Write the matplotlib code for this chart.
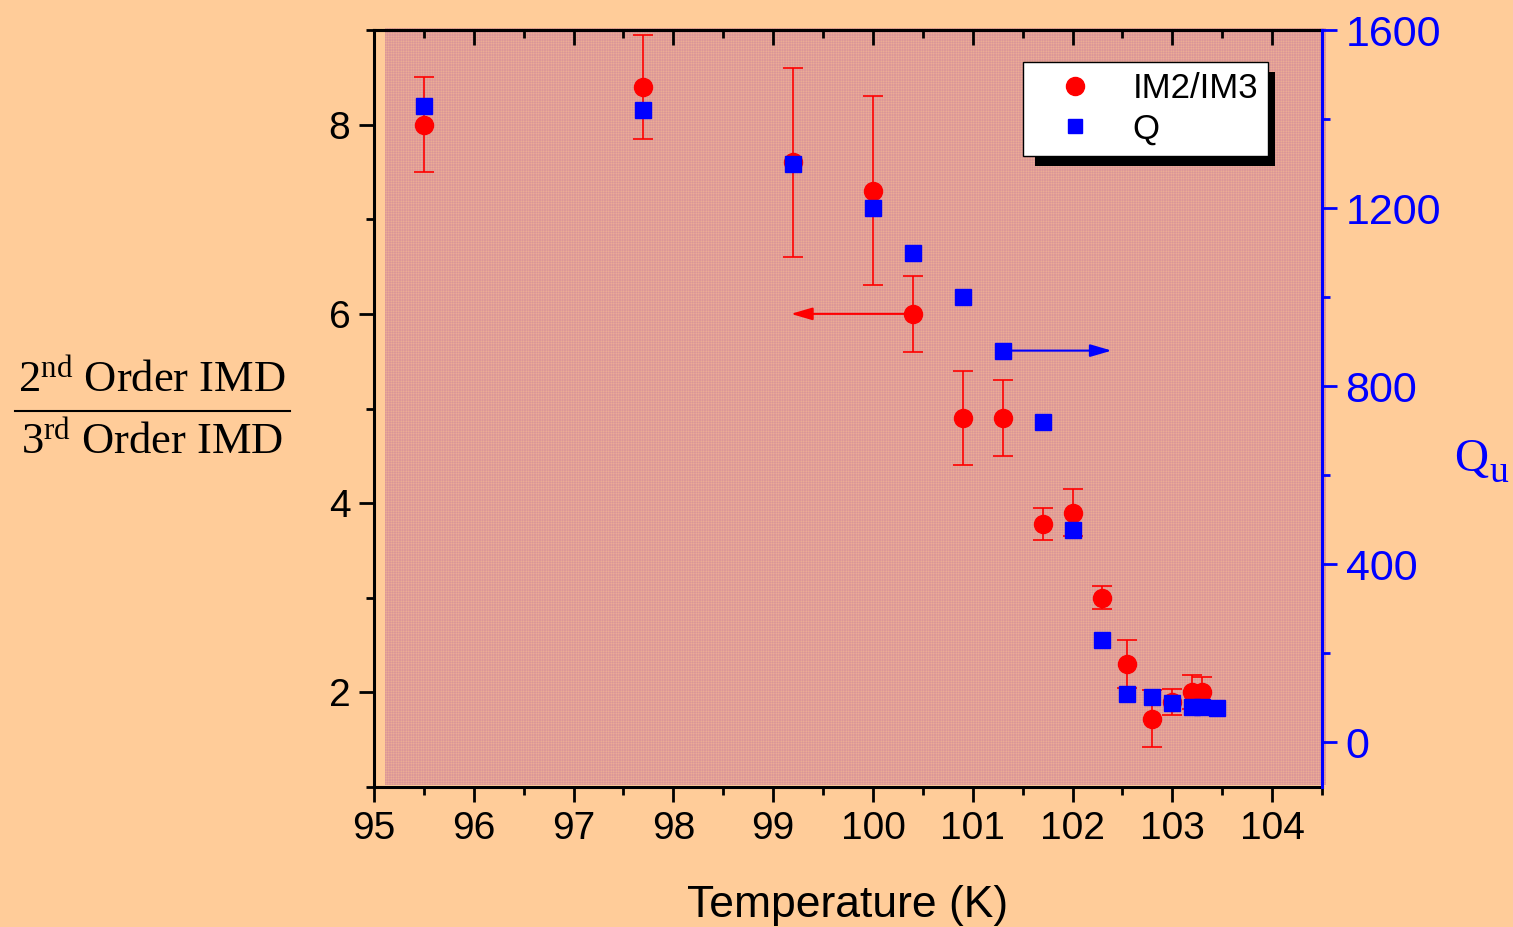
import matplotlib
matplotlib.use("Agg")
import matplotlib.pyplot as plt
from matplotlib.patches import Rectangle
from matplotlib.lines import Line2D
from matplotlib.ticker import MultipleLocator

# ---- data ----
t_ratio = [95.5, 97.7, 99.2, 100.0, 100.4, 100.9, 101.3, 101.7, 102.0, 102.3, 102.55, 102.8, 103.0, 103.2, 103.3]
ratio = [8.0, 8.4, 7.6, 7.3, 6.0, 4.9, 4.9, 3.78, 3.9, 3.0, 2.3, 1.72, 1.9, 2.0, 2.0]
ratio_err = [0.5, 0.55, 1.0, 1.0, 0.4, 0.5, 0.4, 0.17, 0.25, 0.12, 0.25, 0.3, 0.14, 0.18, 0.16]

t_q = [95.5, 97.7, 99.2, 100.0, 100.4, 100.9, 101.3, 101.7, 102.0, 102.3, 102.55, 102.8, 103.0, 103.2, 103.3, 103.45]
q_vals = [1430, 1420, 1300, 1200, 1100, 1000, 880, 720, 478, 230, 108, 101, 88, 79, 79, 77]

x_ticks = [95, 96, 97, 98, 99, 100, 101, 102, 103, 104]
left_ticks = [2, 4, 6, 8]
right_ticks = [0, 400, 800, 1200, 1600]

BG = "#FFCC99"
W, H = 1513, 927
fig = plt.figure(figsize=(W / 100, H / 100), dpi=100, facecolor=BG)
ax = fig.add_axes([374 / W, 1 - 787 / H, (1322 - 374) / W, (787 - 30) / H])
ax.set_facecolor("none")
ax.set_xlim(95, 104.5)
ax.set_ylim(1, 9)

plt.rcParams["hatch.linewidth"] = 0.35
ax.add_patch(Rectangle((95.11, 1.02), 104.5 - 95.11 + 0.04, 8.0, facecolor="#efb293",
                       edgecolor="#d9939a", hatch="+" * 10, linewidth=0, zorder=0, clip_on=False))

ax.errorbar(t_ratio, ratio, yerr=ratio_err, fmt="o", color="red", ms=13, elinewidth=1.2,
            capsize=7, capthick=1.2, zorder=3)

ax2 = ax.twinx()
ax2.set_ylim(-100, 1600)
ax2.set_facecolor("none")
ax2.plot(t_q, q_vals, "s", color="blue", ms=11, zorder=3)

# arrows
ax.annotate("", xy=(99.15, 6.0), xytext=(100.35, 6.0),
            arrowprops=dict(arrowstyle="-|>,head_length=1.3,head_width=0.38", color="red", lw=1.5))
ax2.annotate("", xy=(102.42, 880), xytext=(101.35, 880),
             arrowprops=dict(arrowstyle="-|>,head_length=1.3,head_width=0.38", color="blue", lw=1.5))

# spines / ticks
for s in ["left", "bottom", "top"]:
    ax.spines[s].set_linewidth(2.2)
    ax.spines[s].set_color("black")
ax.spines["right"].set_visible(False)
for s in ["left", "bottom", "top"]:
    ax2.spines[s].set_visible(False)
ax2.spines["right"].set_color("blue")
ax2.spines["right"].set_linewidth(2.2)

ax.set_xticks(x_ticks)
ax.set_xticklabels([str(v) for v in x_ticks])
ax.xaxis.set_minor_locator(MultipleLocator(0.5))
ax.set_yticks(left_ticks)
ax.set_yticklabels([str(v) for v in left_ticks])
ax.yaxis.set_minor_locator(MultipleLocator(1))
ax.tick_params(axis="both", which="major", direction="out", length=11, width=2, labelsize=28, pad=6)
ax.tick_params(axis="both", which="minor", direction="out", length=6, width=2)
ax.tick_params(axis="x", top=False)

sec = ax.secondary_xaxis("top")
sec.xaxis.set_major_locator(MultipleLocator(1))
sec.xaxis.set_minor_locator(MultipleLocator(0.5))
sec.tick_params(which="major", direction="in", length=11, width=2, labeltop=False)
sec.tick_params(which="minor", direction="in", length=6, width=2)
sec.spines["top"].set_linewidth(2.2)

ax2.set_yticks(right_ticks)
ax2.set_yticklabels([str(v) for v in right_ticks])
ax2.yaxis.set_minor_locator(MultipleLocator(200))
ax2.tick_params(axis="y", which="major", direction="out", length=11, width=2, colors="blue", labelsize=31, pad=6)
ax2.tick_params(axis="y", which="minor", direction="out", length=6, width=2, colors="blue")

for lab in ax.get_xticklabels() + ax.get_yticklabels() + ax2.get_yticklabels():
    lab.set_fontfamily("Liberation Sans")

ax.set_xlabel("Temperature (K)", fontsize=32, family="Liberation Sans", labelpad=28)

# left fraction label
plt.rcParams["mathtext.fontset"] = "custom"
plt.rcParams["mathtext.rm"] = "Liberation Serif"
plt.rcParams["mathtext.it"] = "Liberation Serif:italic"
fig.text(152 / W, 1 - 381 / H, r"2$^{\mathrm{nd}}$ Order IMD", ha="center", va="center",
         fontsize=32, family="Liberation Serif")
fig.text(152 / W, 1 - 443 / H, r"3$^{\mathrm{rd}}$ Order IMD", ha="center", va="center",
         fontsize=32, family="Liberation Serif")
fig.add_artist(Line2D([15 / W, 290 / W], [1 - 411 / H, 1 - 411 / H], color="black", lw=1.5))

# right label Q_u
fig.text(1454 / W, 1 - 471 / H, "Q", ha="left", va="baseline",
         fontsize=34, family="Liberation Serif", color="blue")
fig.text(1489 / W, 1 - 482 / H, "u", ha="left", va="baseline",
         fontsize=27, family="Liberation Serif", color="blue")

# legend
handles = [Line2D([], [], marker="o", color="red", ls="none", ms=13),
           Line2D([], [], marker="s", color="blue", ls="none", ms=10)]
leg = ax2.legend(handles, ["IM2/IM3", "Q"], loc="upper left",
                 bbox_to_anchor=(1023 / W, 1 - 62 / H), bbox_transform=fig.transFigure,
                 borderaxespad=0, fancybox=False, frameon=True,
                 prop={"family": "Liberation Sans", "size": 25}, handlelength=2.4,
                 handletextpad=0.45, labelspacing=0.2, borderpad=0.3)
leg.get_frame().set_edgecolor("black")
leg.get_frame().set_linewidth(1.0)
leg.get_frame().set_facecolor("white")
leg.get_frame().set_alpha(1)
leg.set_zorder(10)

fig.canvas.draw()
bb = leg.get_frame().get_window_extent()
shadow = Rectangle((bb.x0 + 12, bb.y0 - 10), bb.width - 5, bb.height, transform=None,
                   facecolor="black", edgecolor="none", zorder=9)
ax2.add_artist(shadow)

fig.savefig("out.png", dpi=100, facecolor=BG)
